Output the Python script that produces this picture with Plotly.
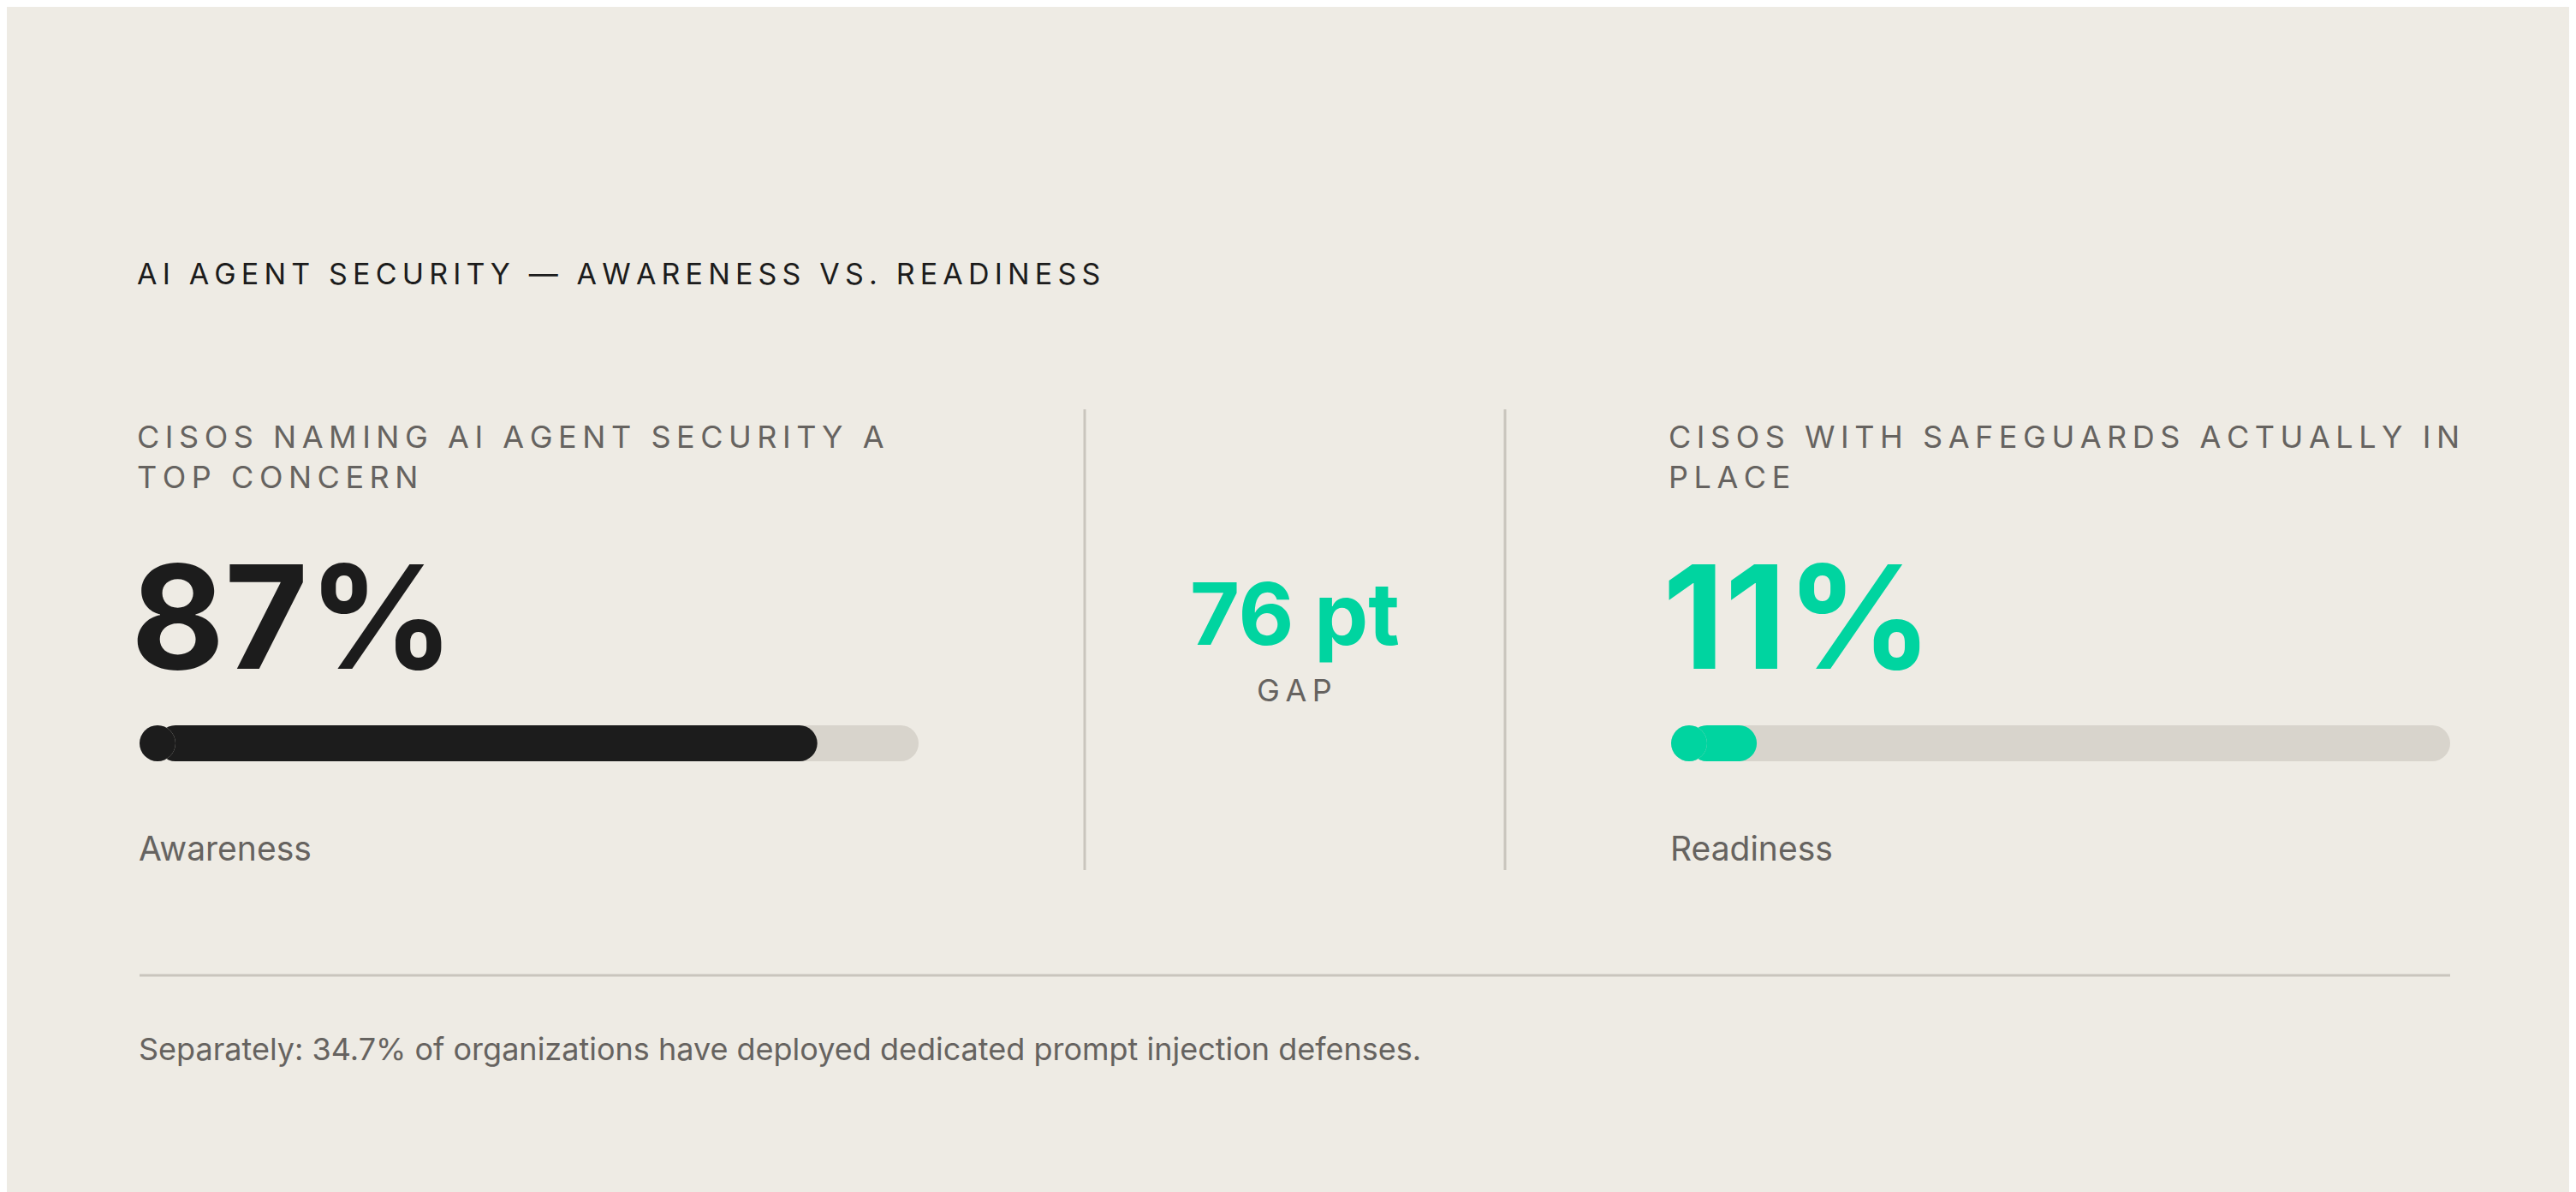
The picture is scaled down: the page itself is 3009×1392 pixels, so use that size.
import plotly.graph_objects as go

W, H = 3009, 1392
metrics = ["Awareness", "Readiness"]
values = [87, 11]
labels = ["CISOS NAMING AI AGENT SECURITY A", "TOP CONCERN", "CISOS WITH SAFEGUARDS ACTUALLY IN", "PLACE"]
big_text = ["87%", "11%"]
gap_value = "76 pt"
title = "AI AGENT SECURITY — AWARENESS VS. READINESS"
footnote = "Separately: 34.7% of organizations have deployed dedicated prompt injection defenses."

BG = "#EEEBE4"; DARK = "#1C1C1C"; GREEN = "#00D4A0"; TRACK = "#D8D4CC"; GRAY = "#666360"
FONT = "Inter"
colors = [DARK, GREEN]

def px(x): return x / W
def py(y): return 1 - y / H
def track(s): return "\u2009".join(s)

BARW = 910
R = 21 / BARW * 100  # radius in data units

fig = go.Figure()
xdom = [[px(155), px(1065)], [px(1944), px(2854)]]
for i in range(2):
    xa = "x" if i == 0 else "x2"
    ya = "y" if i == 0 else "y2"
    for val, col in [(100, TRACK), (values[i], colors[i])]:
        fig.add_trace(go.Bar(x=[val - R], base=[R], y=[0], orientation="h",
                             marker=dict(color=col, cornerradius=21, line=dict(width=0)),
                             width=1, xaxis=xa, yaxis=ya, hoverinfo="skip", showlegend=False))
        fig.add_trace(go.Scatter(x=[R], y=[0], mode="markers", xaxis=xa, yaxis=ya,
                                 marker=dict(size=42, color=col, line=dict(width=0)),
                                 hoverinfo="skip", showlegend=False))

ydom = [py(881), py(839)]
ax = dict(showgrid=False, zeroline=False, showticklabels=False, fixedrange=True)
fig.update_layout(
    width=W, height=H, paper_bgcolor=BG, plot_bgcolor="rgba(0,0,0,0)",
    margin=dict(l=0, r=0, t=0, b=0), barmode="overlay",
    xaxis=dict(domain=xdom[0], range=[0, 100], **ax),
    xaxis2=dict(domain=xdom[1], range=[0, 100], **ax),
    yaxis=dict(domain=ydom, range=[-0.5, 0.5], **ax),
    yaxis2=dict(domain=ydom, range=[-0.5, 0.5], anchor="x2", **ax),
    font=dict(family=FONT),
)

ann = []
def A(text, x, y, size, color, xanchor="left", yanchor="middle", weight=None):
    ann.append(dict(text=text, x=px(x), y=py(y), xref="paper", yref="paper", showarrow=False,
                    xanchor=xanchor, yanchor=yanchor, align="left",
                    font=dict(size=size, color=color, family=FONT, weight=weight)))

A(track(title), 150, 311, 34, DARK)
for i, x0 in enumerate([155, 1944]):
    A(track(labels[2 * i]) + "<br>" + track(labels[2 * i + 1]), x0 - 5, 525, 36, GRAY)
    A(big_text[i], x0 - 12, 712, 168, colors[i], weight=700)
    A(metrics[i], x0 - 3, 982, 39, GRAY)
A(gap_value, 1504, 708, 100, GREEN, xanchor="center", weight=700)
A(track("GAP"), 1504, 798, 36, GRAY, xanchor="center")
A(footnote, 152, 1217, 36, GRAY)
fig.update_layout(annotations=ann)

shapes = []
for x in [1259, 1750]:
    shapes.append(dict(type="line", xref="paper", yref="paper", x0=px(x), x1=px(x), y0=py(470), y1=py(1008),
                       line=dict(color="#C9C5BD", width=3)))
shapes.append(dict(type="line", xref="paper", yref="paper", x0=px(155), x1=px(2854), y0=py(1131), y1=py(1131),
                   line=dict(color="#C9C5BD", width=3)))
fig.update_layout(shapes=shapes)

fig.write_html("out.html")
